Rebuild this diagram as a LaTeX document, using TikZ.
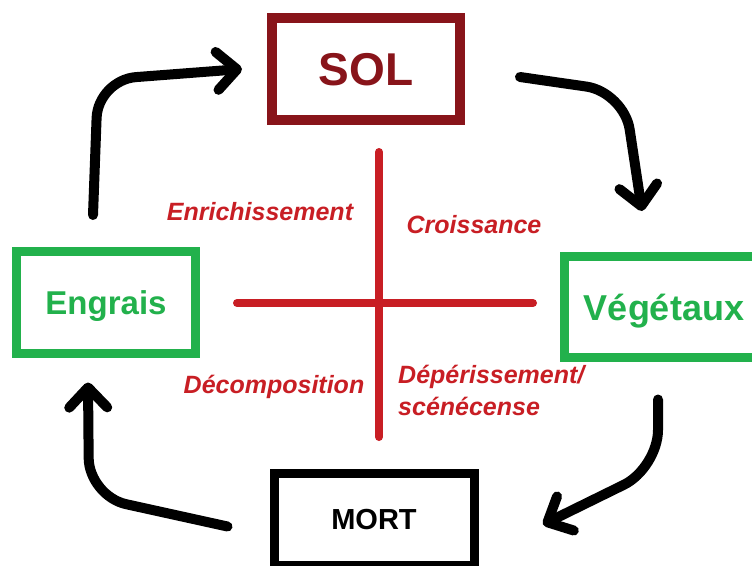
\documentclass[tikz,border=0pt]{standalone}
\usepackage{fontspec}
\setmainfont{Liberation Sans}
\usetikzlibrary{arrows.meta}

\definecolor{solred}{RGB}{136,20,26}
\definecolor{leafgreen}{RGB}{34,177,76}
\definecolor{crossred}{RGB}{200,30,36}

\begin{document}
\begin{tikzpicture}[
    x=1pt, y=-1pt,
    box/.style={draw, fill=white, inner sep=0pt, text depth=0pt},
    solbox/.style={box, draw=solred, text=solred, line width=10pt, minimum width=188pt, minimum height=102pt, font=\fontsize{46}{50}\selectfont\bfseries},
    greenbox/.style={box, draw=leafgreen, text=leafgreen, line width=9pt},
    mortbox/.style={box, draw=black, line width=9pt, minimum width=200pt, minimum height=92pt, font=\fontsize{29}{32}\selectfont\bfseries},
    flow/.style={line width=10pt, line cap=round, rounded corners=38pt, -{Straight Barb[length=20pt, width=38pt, round]}},
    phase/.style={text=crossred, font=\fontsize{25}{32}\selectfont\bfseries\itshape, inner sep=0pt, anchor=base},
    crossline/.style={crossred, line width=8pt, line cap=round}
  ]
  \useasboundingbox (0,0) rectangle (752,565);

  % Boxes
  \node[solbox] (sol) at (366,69) {SOL};
  \node[greenbox, minimum width=179pt, minimum height=102pt, font=\fontsize{33}{36}\selectfont\bfseries] (engrais) at (106,302.5) {Engrais};
  \node[greenbox, minimum width=199pt, minimum height=101pt, font=\fontsize{36}{40}\selectfont\bfseries] (vegetaux) at (664,307) {Végétaux};
  \node[mortbox] (mort) at (374,519.5) {MORT};

  % Bends of the cycle arrows
  \coordinate (bendNW) at (98,80);
  \coordinate (bendNE) at (624,92);
  \coordinate (bendSE) at (658,468);
  \coordinate (bendSW) at (89,496);

  % Cycle arrows
  \draw[flow] ([xshift=-13pt, yshift=32pt]engrais.north) -- (bendNW) -- ([xshift=-25pt]sol.west);
  \draw[flow] ([xshift=55pt, yshift=-8pt]sol.east) -- (bendNE) -- ([xshift=-22pt, yshift=41pt]vegetaux.north);
  \draw[flow] ([xshift=-6pt, yshift=-37.5pt]vegetaux.south) -- (bendSE) -- ([xshift=64.5pt, yshift=-5pt]mort.east);
  \draw[flow] ([xshift=-42pt, yshift=-7pt]mort.west) -- (bendSW) -- ([xshift=-18pt, yshift=-24.5pt]engrais.south);

  % Red cross
  \draw[crossline] (379,152) -- (379,437);
  \draw[crossline] (237,303) -- (533,303);

  % Phase labels
  \node[phase] (enrich) at (260,220) {Enrichissement};
  \node[phase] (croiss) at (474,233) {Croissance};
  \node[phase] (decomp) at (274,393) {Décomposition};
  \node[phase, anchor=base west, align=left] (deper) at (398,415) {Dépérissement/\\scénécense};

\end{tikzpicture}
\end{document}
